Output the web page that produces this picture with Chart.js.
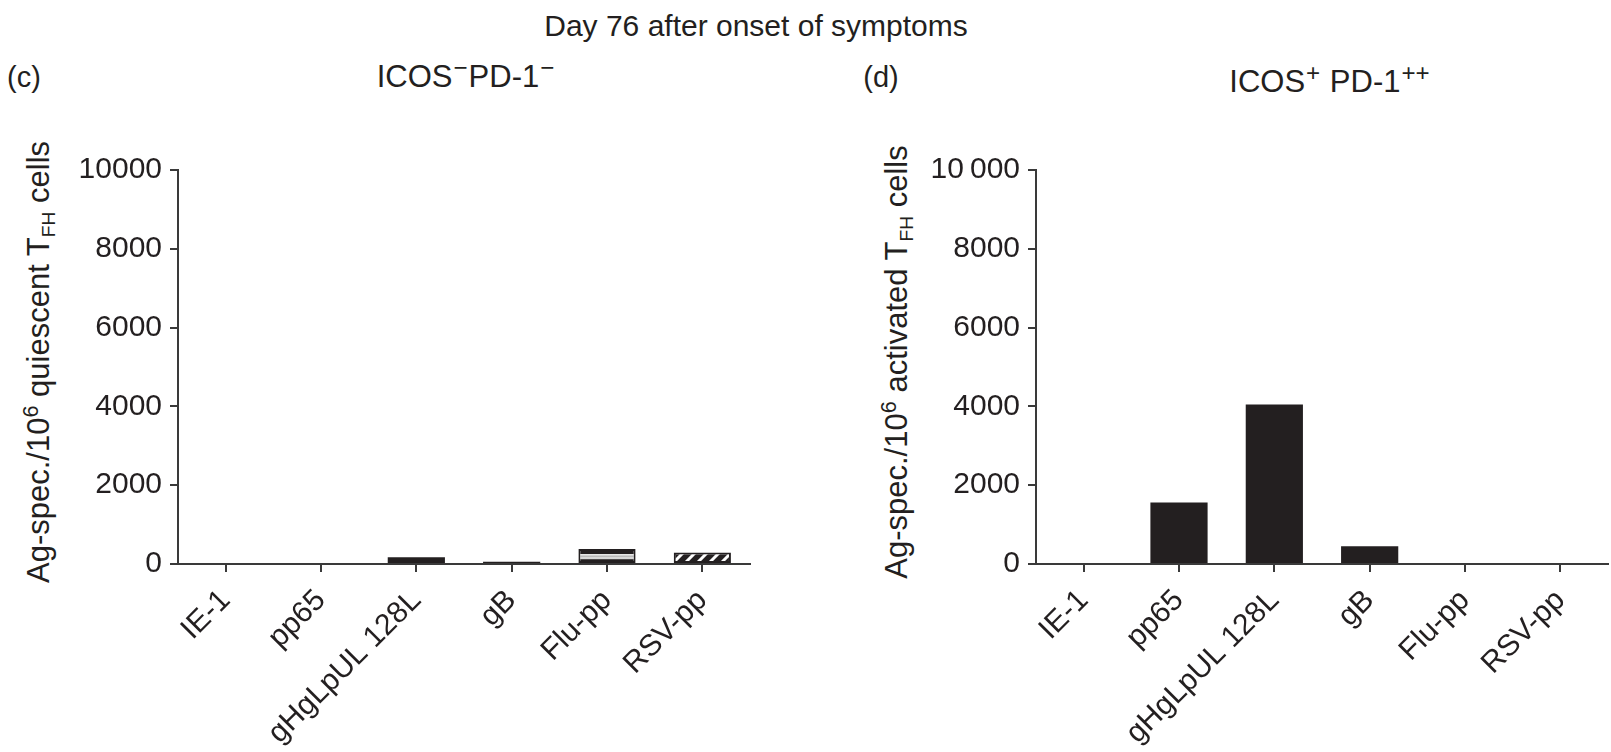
<!DOCTYPE html>
<html>
<head>
<meta charset="utf-8">
<script src="https://cdn.jsdelivr.net/npm/chart.js@4.4.1/dist/chart.umd.min.js"></script>
<style>
html,body{margin:0;padding:0;background:#fff;}
body{width:1611px;height:752px;position:relative;overflow:hidden;font-family:"Liberation Sans",Arial,Helvetica,sans-serif;color:#231f20;}
.t{position:absolute;white-space:nowrap;font-size:30px;line-height:1;transform:translate(-50%,-50%);}
.st{font-size:31px;}
.yt{position:absolute;white-space:nowrap;font-size:31px;line-height:1;transform:translate(-50%,-50%) rotate(-90deg);}
.sup{font-size:0.7em;position:relative;top:-0.5em;}
.st .sup{font-size:0.78em;top:-0.45em;margin:0 1px;}
.sub{font-size:0.62em;position:relative;top:0.3em;}
canvas{position:absolute;top:0;}
</style>
</head>
<body>
<div class="t" style="left:756px;top:26px;">Day 76 after onset of symptoms</div>
<div class="t" style="left:24px;top:77px;font-size:29px;">(c)</div>
<div class="t" style="left:881px;top:77px;font-size:29px;">(d)</div>
<div class="t st" style="left:466px;top:76px;">ICOS<span class="sup">−</span>PD-1<span class="sup">−</span></div>
<div class="t st" style="left:1330px;top:81px;">ICOS<span class="sup">+</span> PD-1<span class="sup">++</span></div>
<div class="yt" style="left:38px;top:362px;">Ag-spec./10<span class="sup">6</span> quiescent T<span class="sub">FH</span> cells</div>
<div class="yt" style="left:896px;top:362px;">Ag-spec./10<span class="sup">6</span> activated T<span class="sub">FH</span> cells</div>
<canvas id="c1" width="805" height="752" style="left:0px;"></canvas>
<canvas id="c2" width="805" height="752" style="left:858px;"></canvas>
<script>
// ---- data ----
const categories = ['IE-1', 'pp65', 'gHgLpUL 128L', 'gB', 'Flu-pp', 'RSV-pp'];
const quiescentValues = [0, 0, 170, 60, 380, 290];
const activatedValues = [0, 1560, 4050, 450, 0, 0];
const yTickValues = [0, 2000, 4000, 6000, 8000, 10000];
const leftYLabels = ['0', '2000', '4000', '6000', '8000', '10000'];
const rightYLabels = ['0', '2000', '4000', '6000', '8000', '10\u2009000'];
const yMax = 10000;

const FONT = '"Liberation Sans", Arial, Helvetica, sans-serif';
const AX = '#3a3a3a';
const TXT = '#231f20';
const BLACK = '#231f20';

function hatchPattern(ctx) {
  const c = document.createElement('canvas');
  c.width = 12; c.height = 12;
  const g = c.getContext('2d');
  g.fillStyle = BLACK; g.fillRect(0, 0, 12, 12);
  g.strokeStyle = '#ffffff'; g.lineWidth = 3;
  g.beginPath();
  g.moveTo(-3, 15); g.lineTo(15, -3);
  g.moveTo(-9, 9); g.lineTo(9, -9);
  g.moveTo(3, 21); g.lineTo(21, 3);
  g.stroke();
  return ctx.createPattern(c, 'repeat');
}

function leftFill(context) {
  const i = context.dataIndex;
  const chart = context.chart;
  if (i === 5) return hatchPattern(chart.ctx);
  if (i === 4 && chart.chartArea && chart.scales.y) {
    const ys = chart.scales.y;
    const top = ys.getPixelForValue(context.raw);
    const bot = ys.getPixelForValue(0);
    const gr = chart.ctx.createLinearGradient(0, top, 0, bot);
    gr.addColorStop(0, BLACK); gr.addColorStop(0.32, BLACK);
    gr.addColorStop(0.33, '#f2f2f2'); gr.addColorStop(0.5, '#b9b9b9');
    gr.addColorStop(0.62, '#f2f2f2'); gr.addColorStop(0.72, BLACK);
    gr.addColorStop(1, BLACK);
    return gr;
  }
  return BLACK;
}

function makeOptions(yLabels) {
  return {
    responsive: false,
    animation: false,
    layout: { padding: { top: 170, right: 55, bottom: 0, left: 0 } },
    plugins: { legend: { display: false }, tooltip: { enabled: false }, title: { display: false } },
    scales: {
      x: {
        type: 'category',
        offset: true,
        grid: { display: true, offset: false, drawOnChartArea: false, drawTicks: true, tickLength: 8, color: AX, lineWidth: 2 },
        border: { display: true, color: AX, width: 2 },
        ticks: { autoSkip: false, maxRotation: 45, minRotation: 45, padding: 11, color: TXT, font: { family: FONT, size: 30 } },
        afterFit(s) { s.height = 188; s.paddingLeft = 0; s.paddingRight = 0; }
      },
      y: {
        min: 0, max: yMax,
        afterBuildTicks(s) { s.ticks = yTickValues.map(v => ({ value: v })); },
        grid: { display: true, drawOnChartArea: false, drawTicks: true, tickLength: 8, color: AX, lineWidth: 2 },
        border: { display: true, color: AX, width: 2 },
        ticks: { padding: 8, color: TXT, font: { family: FONT, size: 30 },
          callback: (v) => yLabels[yTickValues.indexOf(v)] },
        afterFit(s) { s.width = 178; s.paddingTop = 0; s.paddingBottom = 0; }
      }
    }
  };
}

new Chart(document.getElementById('c1'), {
  type: 'bar',
  data: {
    labels: categories,
    datasets: [{
      data: quiescentValues,
      backgroundColor: leftFill,
      borderColor: BLACK,
      borderWidth: (c) => (c.dataIndex >= 4 ? 2 : 0),
      borderSkipped: false,
      barPercentage: 0.6,
      categoryPercentage: 1.0
    }]
  },
  options: makeOptions(leftYLabels)
});

new Chart(document.getElementById('c2'), {
  type: 'bar',
  data: {
    labels: categories,
    datasets: [{
      data: activatedValues,
      backgroundColor: BLACK,
      borderWidth: 0,
      barPercentage: 0.6,
      categoryPercentage: 1.0
    }]
  },
  options: makeOptions(rightYLabels)
});
</script>
</body>
</html>
